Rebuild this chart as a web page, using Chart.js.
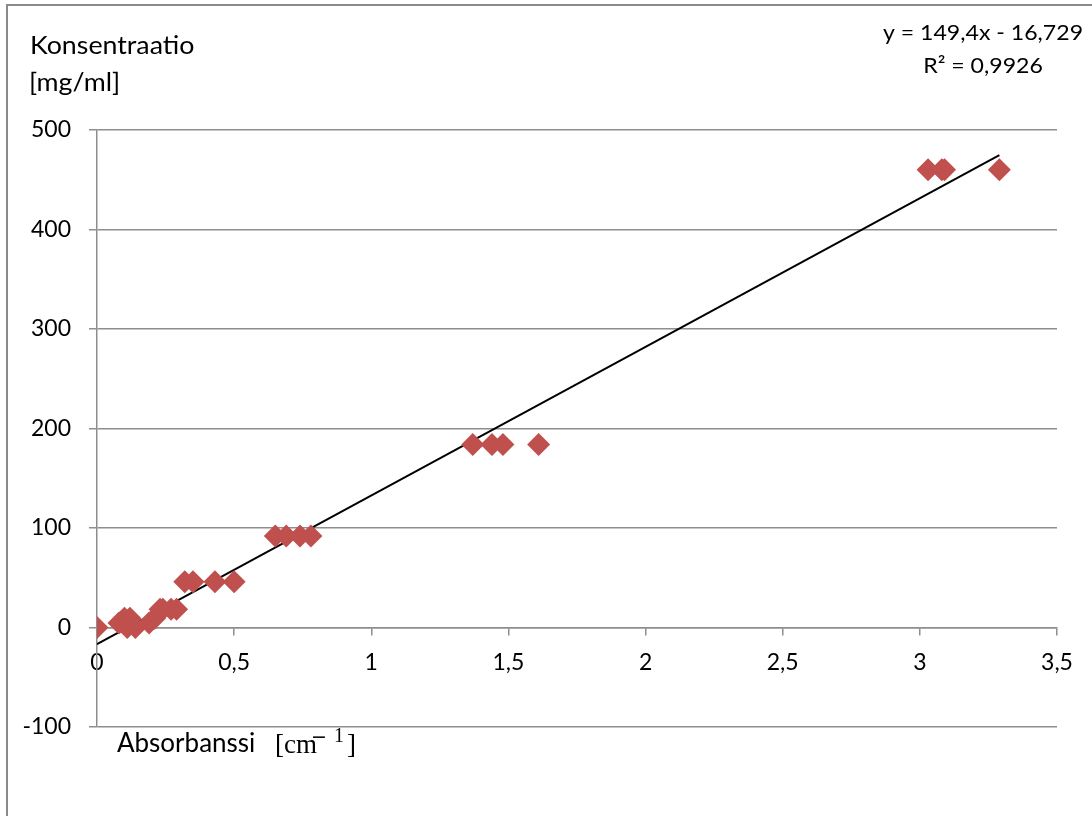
<!DOCTYPE html>
<html>
<head>
<meta charset="utf-8">
<script src="https://cdn.jsdelivr.net/npm/chart.js@4/dist/chart.umd.min.js"></script>
<style>
  html, body { margin: 0; padding: 0; background: #fff; }
  #wrap { position: relative; width: 1092px; height: 816px; overflow: hidden; }
  #frame { position: absolute; left: 6px; top: 4px; width: 1200px; height: 900px; border: 2px solid #8a8a8a; }
  #c { position: absolute; left: 0; top: 0; }
</style>
</head>
<body>
<div id="wrap">
  <div id="frame"></div>
  <canvas id="c" width="1092" height="816"></canvas>
</div>
<script>
// measured points (absorbance vs concentration)
const absorbance = [0, 0.08, 0.10, 0.11, 0.12, 0.14, 0.19, 0.21,
  0.23, 0.24, 0.27, 0.29,
  0.32, 0.35, 0.43, 0.50,
  0.65, 0.69, 0.74, 0.78,
  1.37, 1.44, 1.48, 1.61,
  3.03, 3.08, 3.09, 3.29];
const concentration = [0, 4.6, 9.2, 0, 9.2, 0, 4.6, 9.2,
  18.4, 18.4, 18.4, 18.4,
  46, 46, 46, 46,
  92, 92, 92, 92,
  184, 184, 184, 184,
  460, 460, 460, 460];

// linear trendline from the chart
const slope = 149.4;
const intercept = -16.729;
const rSquared = "0,9926";

const xTicks = [0, 0.5, 1, 1.5, 2, 2.5, 3, 3.5];
const yTicks = [-100, 0, 100, 200, 300, 400, 500];

const points = absorbance.map((a, i) => ({ x: a, y: concentration[i] }));
const xMin = Math.min(...absorbance), xMax = Math.max(...absorbance);
const trend = [xMin, xMax].map(x => ({ x: x, y: slope * x + intercept }));

const gridGrey = "#8e8e8e";
const tickFont = { family: "Lato", size: 23 };

// text drawn with a horizontal stretch, like the reference
function stretchText(ctx, txt, x, y, sx) {
  ctx.save();
  ctx.translate(x, y);
  ctx.scale(sx, 1);
  ctx.fillText(txt, 0, 0);
  ctx.restore();
}

const labelsPlugin = {
  id: "labels",
  afterDraw(chart) {
    const ctx = chart.ctx;
    ctx.save();
    ctx.fillStyle = "#000";
    ctx.textBaseline = "alphabetic";
    ctx.textAlign = "left";
    ctx.font = "25px Lato";
    stretchText(ctx, "Konsentraatio", 30, 54, 1.07);
    stretchText(ctx, "[mg/ml]", 29, 91, 1.07);

    // x axis title
    ctx.font = "26px Lato";
    ctx.fillText("Absorbanssi", 117, 752);
    ctx.font = "27px 'Liberation Serif'";
    ctx.fillText("[cm", 275, 753);
    ctx.font = "19px 'DejaVu Sans'";
    ctx.fillText("\u2212", 311, 743);
    ctx.font = "20px 'Liberation Serif'";
    ctx.fillText("1", 334, 742);
    ctx.font = "27px 'Liberation Serif'";
    ctx.fillText("]", 347, 753);

    // trendline equation
    ctx.font = "22px Lato";
    ctx.textAlign = "center";
    const eq = "y = " + String(slope).replace(".", ",") + "x - " + String(-intercept).replace(".", ",");
    stretchText(ctx, eq, 983, 40, 1.05);
    stretchText(ctx, "R\u00b2 = " + rSquared, 983, 73, 1.05);
    ctx.restore();
  }
};

new Chart(document.getElementById("c").getContext("2d"), {
  type: "scatter",
  data: {
    datasets: [
      {
        label: "Mittaukset",
        data: points,
        pointStyle: "rectRot",
        pointRadius: 11.5,
        backgroundColor: "#c0504d",
        borderColor: "#c0504d",
        borderWidth: 0
      },
      {
        type: "line",
        label: "Trendi",
        data: trend,
        borderColor: "#000",
        borderWidth: 2,
        pointRadius: 0,
        fill: false
      }
    ]
  },
  options: {
    responsive: false,
    animation: false,
    devicePixelRatio: 1,
    layout: { padding: { left: 0, top: 130, right: 35, bottom: 89 } },
    plugins: { legend: { display: false }, tooltip: { enabled: false } },
    scales: {
      x: {
        type: "linear",
        position: { y: 0 },
        min: 0, max: 3.5,
        afterBuildTicks: s => { s.ticks = xTicks.map(v => ({ value: v })); },
        ticks: {
          color: "#000", font: tickFont, padding: 14,
          maxRotation: 0,
          callback: v => String(v).replace(".", ",")
        },
        grid: { drawOnChartArea: false, drawTicks: true, tickLength: 7, color: gridGrey, lineWidth: 1.5 },
        border: { display: true, color: gridGrey, width: 1.5 }
      },
      y: {
        min: -100, max: 500,
        afterBuildTicks: s => { s.ticks = yTicks.map(v => ({ value: v })); },
        afterFit: s => { s.width = 97; },
        ticks: { color: "#000", font: tickFont, padding: 18 },
        grid: { color: gridGrey, lineWidth: 1.5, tickLength: 8 },
        border: { display: true, color: gridGrey, width: 1.5 }
      }
    }
  },
  plugins: [labelsPlugin]
});
</script>
</body>
</html>
